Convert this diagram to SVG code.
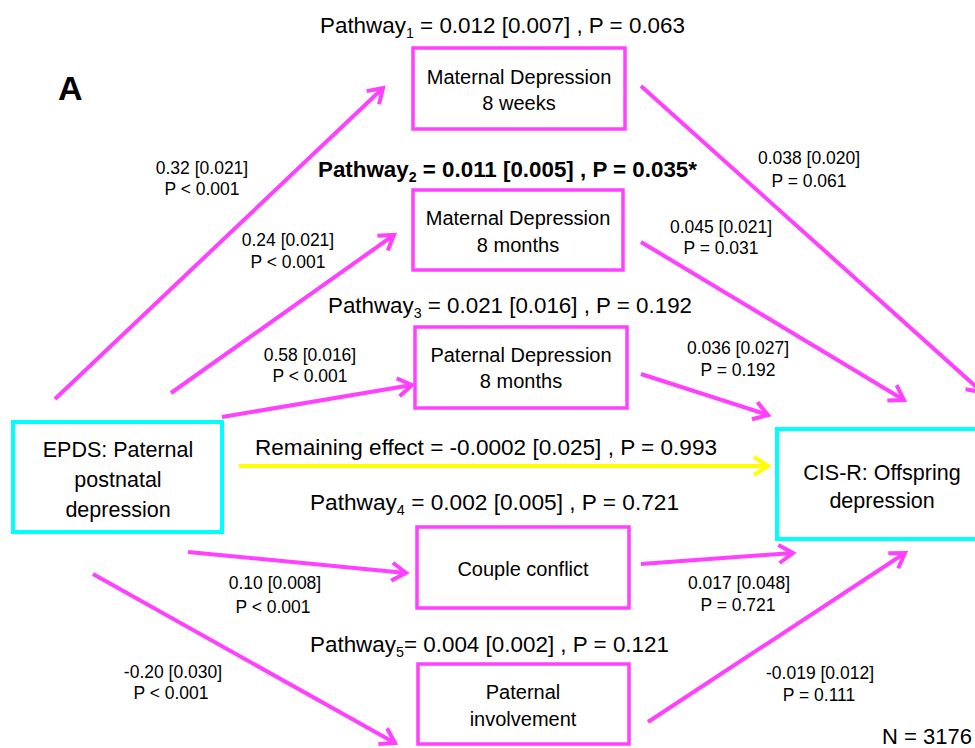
<svg xmlns="http://www.w3.org/2000/svg" width="975" height="748" viewBox="0 0 975 748">
<style>
text{font-family:"Liberation Sans",Arial,sans-serif;fill:#000}
.big{font-size:22px}
.box{font-size:20px;text-anchor:middle}
.node{font-size:21.5px;text-anchor:middle}
.lbl{font-size:17.5px;text-anchor:middle}
.mb{fill:#fff;stroke:#ff40ff;stroke-width:3.5}
.cb{fill:#fff;stroke:#00ffff;stroke-width:4}
.m{stroke:#ff40ff;stroke-width:4;fill:none;marker-end:url(#am)}
.y{stroke:#ffff00;stroke-width:4;fill:none;marker-end:url(#ay)}
</style>
<defs>
<marker id="am" markerUnits="userSpaceOnUse" markerWidth="22" markerHeight="22" viewBox="0 0 22 22" refX="19" refY="11" orient="auto" overflow="visible">
<path d="M5,2 L19,11 L5,20" fill="none" stroke="#ff40ff" stroke-width="4"/>
</marker>
<marker id="ay" markerUnits="userSpaceOnUse" markerWidth="22" markerHeight="22" viewBox="0 0 22 22" refX="19" refY="11" orient="auto" overflow="visible">
<path d="M5,2 L19,11 L5,20" fill="none" stroke="#ffff00" stroke-width="4"/>
</marker>
</defs>
<rect width="975" height="748" fill="#fff"/>

<g id="connectors">
<line class="m" x1="55" y1="399" x2="383" y2="88"/>
<line class="m" x1="171" y1="393" x2="394" y2="235"/>
<line class="m" x1="222" y1="417" x2="412" y2="385"/>
<line class="m" x1="641" y1="86" x2="982" y2="392"/>
<line class="m" x1="641" y1="242" x2="904" y2="400"/>
<line class="m" x1="641" y1="374" x2="768" y2="415"/>
<line class="m" x1="188" y1="552" x2="406" y2="573"/>
<line class="m" x1="93" y1="574" x2="395" y2="743"/>
<line class="m" x1="641" y1="564" x2="793" y2="553"/>
<line class="m" x1="648" y1="722" x2="905" y2="553"/>
<line class="y" x1="239" y1="466" x2="768" y2="466"/>
</g>

<g id="node-epds">
<rect class="cb" x="13" y="422" width="209" height="110"/>
<text class="node" x="118" y="457">EPDS: Paternal</text>
<text class="node" x="118" y="487">postnatal</text>
<text class="node" x="118" y="517">depression</text>
</g>
<g id="node-cisr">
<rect class="cb" x="777" y="429" width="220" height="110"/>
<text class="node" x="882" y="480">CIS-R: Offspring</text>
<text class="node" x="882" y="508">depression</text>
</g>
<g id="node-md8w">
<rect class="mb" x="413" y="48" width="212" height="81"/>
<text class="box" x="519" y="84">Maternal Depression</text>
<text class="box" x="519" y="110">8 weeks</text>
</g>
<g id="node-md8m">
<rect class="mb" x="413" y="190" width="210" height="80"/>
<text class="box" x="518" y="225">Maternal Depression</text>
<text class="box" x="518" y="252">8 months</text>
</g>
<g id="node-pd8m">
<rect class="mb" x="415" y="327" width="212" height="81"/>
<text class="box" x="521" y="362">Paternal Depression</text>
<text class="box" x="521" y="388">8 months</text>
</g>
<g id="node-couple">
<rect class="mb" x="417" y="527" width="212" height="81"/>
<text class="box" x="523" y="576">Couple conflict</text>
</g>
<g id="node-involvement">
<rect class="mb" x="418" y="664" width="211" height="80"/>
<text class="box" x="523" y="699">Paternal</text>
<text class="box" x="523" y="726">involvement</text>
</g>

<g id="labels">
<text x="58" y="100" style="font-size:34px;font-weight:bold">A</text>
<text class="big" x="320" y="33" textLength="365" lengthAdjust="spacingAndGlyphs">Pathway<tspan dy="5" font-size="14">1</tspan><tspan dy="-5"> = 0.012 [0.007] , P = 0.063</tspan></text>
<text class="big" x="318" y="177" font-weight="bold" textLength="379" lengthAdjust="spacingAndGlyphs">Pathway<tspan dy="5" font-size="14">2</tspan><tspan dy="-5"> = 0.011 [0.005] , P = 0.035*</tspan></text>
<text class="big" x="328" y="313" textLength="364" lengthAdjust="spacingAndGlyphs">Pathway<tspan dy="5" font-size="14">3</tspan><tspan dy="-5"> = 0.021 [0.016] , P = 0.192</tspan></text>
<text class="big" x="255" y="455" textLength="462" lengthAdjust="spacingAndGlyphs">Remaining effect = -0.0002 [0.025] , P = 0.993</text>
<text class="big" x="310" y="510" textLength="369" lengthAdjust="spacingAndGlyphs">Pathway<tspan dy="5" font-size="14">4</tspan><tspan dy="-5"> = 0.002 [0.005] , P =  0.721</tspan></text>
<text class="big" x="310" y="652" textLength="359" lengthAdjust="spacingAndGlyphs">Pathway<tspan dy="5" font-size="14">5</tspan><tspan dy="-5">= 0.004 [0.002] , P = 0.121</tspan></text>
<text class="big" x="882" y="744">N = 3176</text>

<text class="lbl" x="202" y="174">0.32 [0.021]</text>
<text class="lbl" x="202" y="195">P &lt; 0.001</text>
<text class="lbl" x="809" y="164">0.038 [0.020]</text>
<text class="lbl" x="809" y="187">P = 0.061</text>
<text class="lbl" x="288" y="246">0.24 [0.021]</text>
<text class="lbl" x="288" y="268">P &lt; 0.001</text>
<text class="lbl" x="721" y="233">0.045 [0.021]</text>
<text class="lbl" x="721" y="254">P = 0.031</text>
<text class="lbl" x="310" y="361">0.58 [0.016]</text>
<text class="lbl" x="310" y="382">P &lt; 0.001</text>
<text class="lbl" x="738" y="354">0.036 [0.027]</text>
<text class="lbl" x="738" y="376">P = 0.192</text>
<text class="lbl" x="275" y="589">0.10 [0.008]</text>
<text class="lbl" x="273" y="613">P &lt; 0.001</text>
<text class="lbl" x="739" y="589">0.017 [0.048]</text>
<text class="lbl" x="738" y="611">P = 0.721</text>
<text class="lbl" x="173" y="678">-0.20 [0.030]</text>
<text class="lbl" x="171" y="699">P &lt; 0.001</text>
<text class="lbl" x="820" y="679">-0.019 [0.012]</text>
<text class="lbl" x="819" y="701">P = 0.111</text>
</g>
</svg>
